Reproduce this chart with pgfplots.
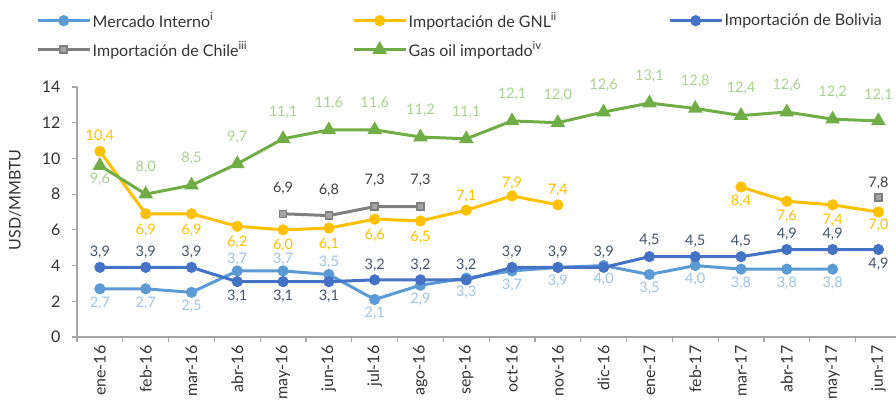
\documentclass[border=0pt]{standalone}
\usepackage{pgfplots}
\pgfplotsset{compat=1.18}
\usepackage{pgfplotstable}
\usepackage{fontspec}
\setmainfont{Lato}

\definecolor{merline}{HTML}{5B9BD5}
\definecolor{merlab}{HTML}{9DC3E6}
\definecolor{gnl}{HTML}{FFC000}
\definecolor{bolline}{HTML}{4472C4}
\definecolor{bollab}{HTML}{44546A}
\definecolor{chiline}{HTML}{7F7F7F}
\definecolor{chifill}{HTML}{A5A5A5}
\definecolor{chilab}{HTML}{404040}
\definecolor{gasline}{HTML}{70AD47}
\definecolor{gaslab}{HTML}{A9D18E}
\definecolor{axgray}{HTML}{A6A6A6}

% x = month index (0 = ene-16), pos = vertical offset of the value label in pt
\pgfplotstableread{
x y pos
0 2.7 -14
1 2.7 -14
2 2.5 -14
3 3.7 12
4 3.7 12
5 3.5 12
6 2.1 -14
7 2.9 -14
8 3.3 -14
9 3.7 -14
10 3.9 -14
11 4.0 -14
12 3.5 -14
13 4.0 -14
14 3.8 -14
15 3.8 -14
16 3.8 -14
}\mercado

\pgfplotstableread{
x y pos
0 10.4 15
1 6.9 -16
2 6.9 -16
3 6.2 -16
4 6.0 -15
5 6.1 -16
6 6.6 -16
7 6.5 -16
8 7.1 14
9 7.9 13
10 7.4 15
11 nan 0
12 nan 0
13 nan 0
14 8.4 -14
15 7.6 -15
16 7.4 -15
17 7.0 -13
}\gnltab

\pgfplotstableread{
x y pos
0 3.9 15
1 3.9 15
2 3.9 15
3 3.1 -15
4 3.1 -15
5 3.1 -15
6 3.2 15
7 3.2 15
8 3.2 15
9 3.9 15
10 3.9 15
11 3.9 15
12 4.5 16
13 4.5 15
14 4.5 15
15 4.9 15
16 4.9 15
17 4.9 -15
}\bolivia

\pgfplotstableread{
x y pos
4 6.9 26
5 6.8 25
6 7.3 26
7 7.3 26
8 nan 0
17 7.8 14
}\chile

\pgfplotstableread{
x y pos
0 9.6 -14
1 8.0 27
2 8.5 27
3 9.7 27
4 11.1 27
5 11.6 27
6 11.6 27
7 11.2 27
8 11.1 27
9 12.1 27
10 12.0 27
11 12.6 27
12 13.1 27
13 12.8 27
14 12.4 27
15 12.6 27
16 12.2 27
17 12.1 26
}\gasoil

\pgfplotsset{
    lab/.style={
        forget plot, draw=none, mark=none,
        nodes near coords={\pgfmathprintnumber[fixed,fixed zerofill,precision=1,use comma]{\pgfplotspointmeta}},
        visualization depends on={\thisrow{pos} \as \lpos},
        every node near coord/.append style={anchor=center, inner sep=0pt, yshift=\lpos pt,
            font=\fontsize{14.5}{16}\selectfont, text=#1},
    },
}

\begin{document}
\begin{tikzpicture}
\begin{axis}[
    at={(0pt,0pt)}, anchor=south west,
    width=822pt, height=250pt, scale only axis,
    xmin=-0.5, xmax=17.45, ymin=0, ymax=14,
    ytick={0,2,...,14},
    xtick={0,...,17},
    xticklabels={ene-16,feb-16,mar-16,abr-16,may-16,jun-16,jul-16,ago-16,sep-16,oct-16,nov-16,dic-16,ene-17,feb-17,mar-17,abr-17,may-17,jun-17},
    minor xtick={-0.5,0.5,...,17.5},
    axis x line*=bottom, axis y line*=left,
    axis line style={draw=axgray, line width=1.5pt},
    tick align=outside,
    major tick length=5pt, minor tick length=5pt,
    tick style={draw=axgray, line width=1.2pt},
    major x tick style={draw=none},
    /pgf/number format/assume math mode=true,
    ticklabel style={font=\fontsize{16}{18}\selectfont, text=black!80},
    xticklabel style={rotate=90, anchor=east},
    yticklabel style={xshift=-8pt},
    ylabel={USD/MMBTU},
    ylabel style={at={(-0.0754,0.548)}, anchor=center, font=\fontsize{16}{18}\selectfont, text=black!80},
    unbounded coords=jump,
    every axis plot/.append style={line width=3pt},
    legend columns=3,
    legend style={at={(-0.0535,1.312)}, anchor=north west, draw=none, fill=none,
        column sep=0pt, row sep=10pt,
        nodes={inner sep=1.5pt, anchor=west}, font=\fontsize{16}{18}\selectfont, text=black!80},
    legend image code/.code={\draw[mark repeat=2,mark phase=2,#1] plot coordinates {(0pt,0pt)(26pt,0pt)(52pt,0pt)};},
]
\addplot[merline, mark=*, mark size=4pt] table[x=x,y=y] {\mercado};
\addlegendentry{\makebox[258pt][l]{Mercado Interno\textsuperscript{i}}}
\addplot[gnl, mark=*, mark size=4pt] table[x=x,y=y] {\gnltab};
\addlegendentry{\makebox[258pt][l]{Importación de GNL\textsuperscript{ii}}}
\addplot[bolline, mark=*, mark size=4pt] table[x=x,y=y] {\bolivia};
\addlegendentry{Importación de Bolivia}
\addplot[chiline, mark=square*, mark size=3.5pt, mark options={fill=chifill, draw=chiline, line width=1.5pt}]
    table[x=x,y=y] {\chile};
\addlegendentry{\makebox[258pt][l]{Importación de Chile\textsuperscript{iii}}}
\addplot[gasline, mark=triangle*, mark size=5.5pt] table[x=x,y=y] {\gasoil};
\addlegendentry{\makebox[258pt][l]{Gas oil importado\textsuperscript{iv}}}

% value labels
\addplot[lab=merlab] table[x=x,y=y] {\mercado};
\addplot[lab=gnl] table[x=x,y=y] {\gnltab};
\addplot[lab=bollab] table[x=x,y=y] {\bolivia};
\addplot[lab=chilab] table[x=x,y=y] {\chile};
\addplot[lab=gaslab] table[x=x,y=y] {\gasoil};
\end{axis}
\pgfresetboundingbox
\path[use as bounding box] (-77pt,-63pt) rectangle (819pt,337pt);
\end{tikzpicture}
\end{document}
